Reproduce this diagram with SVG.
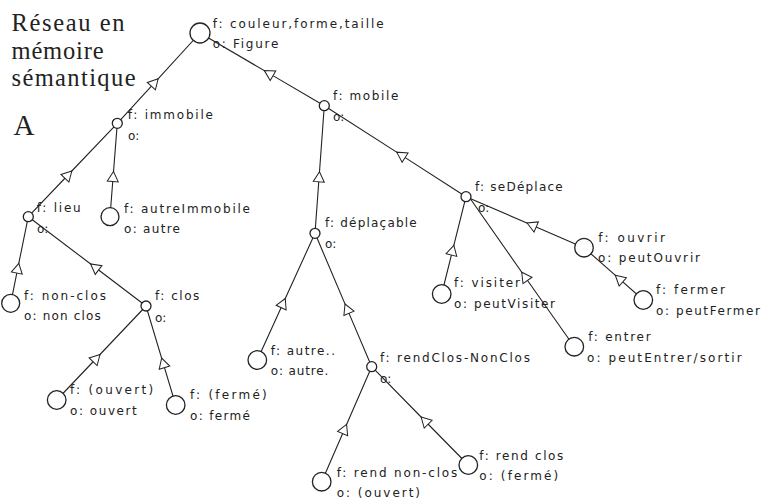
<svg xmlns="http://www.w3.org/2000/svg" width="762" height="502" viewBox="0 0 762 502">
<style>
.bg{fill:#fff}
.edge{fill:none;stroke:#222;stroke-width:1.1;marker-mid:url(#tri)}
.node{fill:#fff;stroke:#222;stroke-width:1.3}
.lbl{font-family:"DejaVu Sans",Verdana,sans-serif;font-size:12px;fill:#222}
.title{font-family:"Liberation Serif","Times New Roman",serif;font-size:24.5px;fill:#222}
</style>
<defs>
<marker id="tri" markerUnits="userSpaceOnUse" markerWidth="14" markerHeight="14" viewBox="-7 -7 14 14" refX="0" refY="0" orient="auto">
<path d="M5.5,0 L-4.5,-5.5 L-4.5,5.5 Z" fill="#fff" stroke="#222" stroke-width="1"/>
</marker>
</defs>
<rect class="bg" x="0" y="0" width="762" height="502"/>
<g id="title">
<text class="title" x="11.5" y="31" textLength="113">Réseau en</text>
<text class="title" x="11.5" y="58.5" textLength="92">mémoire</text>
<text class="title" x="11.5" y="86" textLength="124">sémantique</text>
<text class="title" x="13.5" y="135" style="font-size:29px">A</text>
</g>
<g id="connectors">
<path class="edge" d="M117.3,123.3 L154.4,82.8 L200,33"/>
<path class="edge" d="M324.3,105.7 L269.1,73.4 L200,33"/>
<path class="edge" d="M28.3,216.7 L68,175 L117.3,123.3"/>
<path class="edge" d="M110,216.7 L113.1,177 L117.3,123.3"/>
<path class="edge" d="M10.7,303.3 L17.7,268.7 L28.3,216.7"/>
<path class="edge" d="M146,306 L95,267.3 L28.3,216.7"/>
<path class="edge" d="M56.7,400 L96.2,358.5 L146,306"/>
<path class="edge" d="M175.7,405 L163.2,363.3 L146,306"/>
<path class="edge" d="M315,233.3 L319.1,177.3 L324.3,105.7"/>
<path class="edge" d="M466,196.7 L401.3,155.1 L324.3,105.7"/>
<path class="edge" d="M257.3,360 L283,303.5 L315,233.3"/>
<path class="edge" d="M371.7,366.7 L347.2,309.1 L315,233.3"/>
<path class="edge" d="M321.7,481.7 L344.4,429.5 L371.7,366.7"/>
<path class="edge" d="M468.3,465 L425,421 L371.7,366.7"/>
<path class="edge" d="M441.7,294 L452.5,250.7 L466,196.7"/>
<path class="edge" d="M574.3,346.7 L524.9,276.7 L470.5,199"/>
<path class="edge" d="M584,247.7 L532.1,225.2 L466,196.7"/>
<path class="edge" d="M643.3,300 L619.4,278.9 L584,247.7"/>
</g>
<g id="n-root"><circle class="node" cx="200" cy="33" r="10"/>
<text class="lbl" x="212.7" y="28" textLength="171">f: couleur,forme,taille</text>
<text class="lbl" x="212.7" y="48.3" textLength="65.6">o: Figure</text></g>
<g id="n-immobile"><circle class="node" cx="117.3" cy="123.3" r="5"/>
<text class="lbl" x="127.7" y="119" textLength="85.3">f: immobile</text>
<text class="lbl" x="128" y="140">o:</text></g>
<g id="n-mobile"><circle class="node" cx="324.3" cy="105.7" r="5"/>
<text class="lbl" x="333" y="100" textLength="65.3">f: mobile</text>
<text class="lbl" x="333" y="121">o:</text></g>
<g id="n-lieu"><circle class="node" cx="28.3" cy="216.7" r="5"/>
<text class="lbl" x="36.7" y="211.7" textLength="44">f: lieu</text>
<text class="lbl" x="37" y="232.7">o:</text></g>
<g id="n-autreImmobile"><circle class="node" cx="110" cy="216.7" r="9"/>
<text class="lbl" x="124" y="213.3" textLength="126">f: autreImmobile</text>
<text class="lbl" x="124" y="233.3" textLength="56">o: autre</text></g>
<g id="n-deplacable"><circle class="node" cx="315" cy="233.3" r="5"/>
<text class="lbl" x="325" y="226.7" textLength="91.7">f: déplaçable</text>
<text class="lbl" x="325" y="248.3">o:</text></g>
<g id="n-seDeplace"><circle class="node" cx="466" cy="196.7" r="5"/>
<text class="lbl" x="475" y="190.7" textLength="87.7">f: seDéplace</text>
<text class="lbl" x="478" y="211.7">o:</text></g>
<g id="n-ouvrir"><circle class="node" cx="584" cy="247.7" r="9.3"/>
<text class="lbl" x="598.3" y="241.7" textLength="66.7">f: ouvrir</text>
<text class="lbl" x="598" y="261.7" textLength="102">o: peutOuvrir</text></g>
<g id="n-fermer"><circle class="node" cx="643.3" cy="300" r="9.3"/>
<text class="lbl" x="656" y="294" textLength="69">f: fermer</text>
<text class="lbl" x="656" y="315" textLength="104">o: peutFermer</text></g>
<g id="n-visiter"><circle class="node" cx="441.7" cy="294" r="9.3"/>
<text class="lbl" x="454" y="287.3" textLength="66">f: visiter</text>
<text class="lbl" x="454" y="308.3" textLength="101">o: peutVisiter</text></g>
<g id="n-entrer"><circle class="node" cx="574.3" cy="346.7" r="9.3"/>
<text class="lbl" x="588.3" y="340.7" textLength="62.4">f: entrer</text>
<text class="lbl" x="587" y="361.7" textLength="154.7">o: peutEntrer/sortir</text></g>
<g id="n-nonclos"><circle class="node" cx="10.7" cy="303.3" r="9"/>
<text class="lbl" x="24" y="299.5" textLength="82">f: non-clos</text>
<text class="lbl" x="24" y="319.5" textLength="76.7">o: non clos</text></g>
<g id="n-clos"><circle class="node" cx="146" cy="306" r="5"/>
<text class="lbl" x="155" y="300" textLength="44.3">f: clos</text>
<text class="lbl" x="155" y="321.7">o:</text></g>
<g id="n-ouvert"><circle class="node" cx="56.7" cy="400" r="9.3"/>
<text class="lbl" x="70" y="394" textLength="83.3">f: (ouvert)</text>
<text class="lbl" x="70" y="415" textLength="66.7">o: ouvert</text></g>
<g id="n-ferme"><circle class="node" cx="175.7" cy="405" r="9.3"/>
<text class="lbl" x="190" y="399.3" textLength="76.7">f: (fermé)</text>
<text class="lbl" x="190" y="420" textLength="60">o: fermé</text></g>
<g id="n-autre"><circle class="node" cx="257.3" cy="360" r="9.3"/>
<text class="lbl" x="270.7" y="355" textLength="64.3">f: autre..</text>
<text class="lbl" x="270.7" y="375" textLength="57.6">o: autre.</text></g>
<g id="n-rendClosNonClos"><circle class="node" cx="371.7" cy="366.7" r="5"/>
<text class="lbl" x="380" y="361.7" textLength="150">f: rendClos-NonClos</text>
<text class="lbl" x="380" y="382.7">o:</text></g>
<g id="n-rendNonClos"><circle class="node" cx="321.7" cy="481.7" r="9.3"/>
<text class="lbl" x="336.7" y="476.7" textLength="120.6">f: rend non-clos</text>
<text class="lbl" x="336.7" y="496.7" textLength="83.3">o: (ouvert)</text></g>
<g id="n-rendClos"><circle class="node" cx="468.3" cy="465" r="9.3"/>
<text class="lbl" x="479.3" y="460" textLength="84">f: rend clos</text>
<text class="lbl" x="479.3" y="480" textLength="79">o: (fermé)</text></g>
</svg>
